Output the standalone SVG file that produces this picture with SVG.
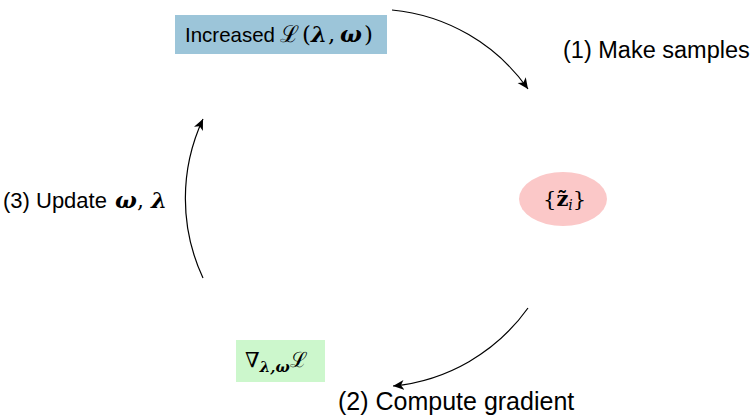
<svg xmlns="http://www.w3.org/2000/svg" width="754" height="420" viewBox="0 0 754 420">
<style>
.lbl{font-family:"Liberation Sans",Arial,sans-serif;font-size:22px;fill:#000}
.m{font-family:"DejaVu Serif","Liberation Serif",serif;fill:#000}
.bi{font-weight:bold;font-style:italic}
.conn{fill:none;stroke:#000;stroke-width:1.2}
</style>
<defs>
<marker id="ah" markerUnits="userSpaceOnUse" markerWidth="14" markerHeight="12" refX="11" refY="5" orient="auto">
<path d="M0,0 L11,5 L0,10 L3,5 Z" fill="#000"/>
</marker>
</defs>
<rect width="754" height="420" fill="#fff"/>
<g id="node-loss">
<rect x="175" y="15" width="212" height="39" fill="#9cc5d9"/>
<text x="185" y="42" class="lbl" style="font-size:21px" textLength="90" lengthAdjust="spacingAndGlyphs">Increased</text>
<text y="42" class="m" style="font-size:23px"><tspan x="280">ℒ</tspan><tspan x="302">(</tspan><tspan x="311" class="bi">λ</tspan><tspan x="328">,</tspan><tspan x="340" class="bi">ω</tspan><tspan x="364">)</tspan></text>
</g>
<g id="node-samples">
<ellipse cx="563" cy="199" rx="44" ry="27" fill="#fbc8c8"/>
<text x="543" y="206" class="m" style="font-size:21px">{<tspan font-weight="bold">z̃</tspan><tspan font-style="italic" font-size="14" dy="4">i</tspan><tspan dy="-4">}</tspan></text>
</g>
<g id="node-grad">
<rect x="236" y="340" width="89" height="42" fill="#ccf7cc"/>
<text x="245" y="367" class="m" style="font-size:21px">∇<tspan class="bi" font-size="15" dy="5">λ,ω</tspan><tspan dy="-5">ℒ</tspan></text>
</g>
<g id="labels">
<text x="563" y="58" class="lbl" style="font-size:23.5px">(1) Make samples</text>
<text x="338" y="410" class="lbl" style="font-size:25px">(2) Compute gradient</text>
<text x="3" y="208" class="lbl">(3) Update <tspan x="115" class="m bi" font-size="23">ω</tspan><tspan class="m">,</tspan> <tspan x="151" class="m bi" font-size="23">λ</tspan></text>
</g>
<g id="connectors">
<path class="conn" d="M392,10 A188,188 0 0 1 528,89" marker-end="url(#ah)"/>
<path class="conn" d="M528,308 A188,188 0 0 1 393,386" marker-end="url(#ah)"/>
<path class="conn" d="M203,278 A188,188 0 0 1 203,119" marker-end="url(#ah)"/>
</g>
</svg>
